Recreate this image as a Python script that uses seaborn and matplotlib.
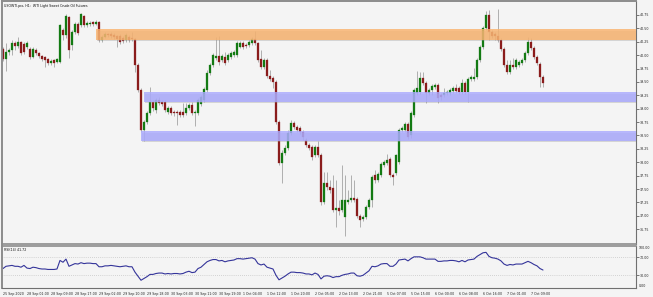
import numpy as np
import pandas as pd
import matplotlib
matplotlib.use("Agg")
import matplotlib.pyplot as plt
import seaborn as sns

# ---------------- data ----------------
title = "USOWTI.pro, H1:  WTI Light Sweet Crude Oil Futures"

opens = [
    40.12, 39.93, 40.06, 40.10, 40.23, 40.17, 40.25, 40.21, 40.15, 40.12,
    39.97, 40.10, 40.04, 39.98, 39.97, 39.93, 39.85, 39.91, 39.87, 39.87,
    40.47, 40.38, 40.71, 40.19, 40.43, 40.58, 40.56, 40.73, 40.56, 40.58,
    40.62, 40.58, 40.62, 40.28, 40.34, 40.40, 40.40, 40.38, 40.36, 40.36,
    40.32, 40.28, 40.34, 40.32, 40.30, 39.82, 39.35, 38.60, 38.75, 38.92,
    39.13, 38.98, 39.16, 39.13, 39.13, 38.94, 39.01, 38.94, 38.94, 38.94,
    38.94, 38.92, 39.01, 39.07, 38.92, 38.92, 39.09, 39.16, 39.35, 39.67,
    39.82, 39.95, 39.98, 39.91, 39.97, 39.91, 39.97, 40.00, 40.00, 40.15,
    40.23, 40.19, 40.19, 40.23, 40.30, 40.23, 39.93, 39.78, 39.91, 39.61,
    39.57, 39.50, 38.75, 37.99, 38.17, 38.27, 38.55, 38.73, 38.66, 38.64,
    38.57, 38.42, 38.32, 38.29, 38.14, 38.29, 38.14, 37.26, 37.61, 37.54,
    37.52, 37.11, 37.15, 37.11, 36.98, 37.26, 37.30, 37.33, 37.32, 37.00,
    36.94, 36.98, 37.17, 37.30, 37.76, 37.67, 37.76, 37.95, 37.99, 38.06,
    37.76, 37.80, 38.01, 38.60, 38.60, 38.71, 38.51, 38.88, 39.29, 39.31,
    39.57, 39.48, 39.29, 39.35, 39.41, 39.44, 39.26, 39.26, 39.29, 39.29,
    39.33, 39.39, 39.39, 39.31, 39.48, 39.31, 39.56, 39.56, 39.59, 39.91,
    40.15, 40.51, 40.75, 40.43, 40.40, 40.36, 40.28, 40.12, 39.82, 39.69,
    39.82, 39.78, 39.82, 39.85, 39.91, 40.04, 40.25, 40.13, 39.97, 39.84,
    39.59,
]
highs = [
    40.15, 40.23, 40.13, 40.28, 40.26, 40.34, 40.26, 40.25, 40.26, 40.15,
    40.15, 40.13, 40.06, 40.00, 39.98, 39.95, 39.93, 39.93, 39.95, 40.58,
    40.51, 40.77, 40.73, 40.47, 40.62, 40.62, 40.79, 40.75, 40.64, 40.64,
    40.64, 40.66, 40.64, 40.38, 40.43, 40.41, 40.43, 40.41, 40.38, 40.40,
    40.36, 40.41, 40.38, 40.43, 40.32, 39.85, 39.39, 38.79, 38.96, 39.41,
    39.16, 39.20, 39.22, 39.16, 39.16, 39.05, 39.05, 38.98, 38.98, 38.98,
    39.11, 39.11, 39.11, 39.13, 38.98, 39.20, 39.26, 39.41, 39.72, 39.85,
    40.04, 40.34, 40.36, 40.02, 40.06, 40.04, 40.08, 40.10, 40.26, 40.26,
    40.26, 40.23, 40.28, 40.34, 40.45, 40.25, 40.10, 39.95, 39.95, 39.72,
    39.61, 39.54, 38.79, 38.23, 38.32, 38.60, 38.79, 38.77, 38.70, 38.68,
    38.60, 38.45, 38.36, 38.32, 38.32, 38.40, 38.17, 37.82, 37.82, 37.67,
    37.76, 37.67, 37.30, 37.95, 37.76, 37.48, 37.76, 37.67, 37.35, 37.04,
    37.02, 37.20, 37.33, 37.76, 37.86, 37.82, 38.01, 38.04, 38.16, 38.10,
    37.80, 38.16, 38.64, 38.68, 38.75, 38.75, 38.96, 39.39, 39.70, 39.69,
    39.69, 39.52, 39.39, 39.46, 39.48, 39.48, 39.29, 39.39, 39.35, 39.39,
    39.42, 39.46, 39.42, 39.56, 39.52, 39.59, 39.63, 39.76, 39.95, 40.19,
    40.54, 40.82, 40.84, 40.47, 40.43, 40.86, 40.32, 40.15, 39.91, 39.91,
    39.95, 39.95, 39.91, 39.95, 40.08, 40.34, 40.32, 40.17, 40.00, 39.87,
    39.63,
]
lows = [
    39.89, 39.70, 40.00, 40.00, 40.10, 40.13, 40.00, 40.02, 40.12, 39.93,
    39.95, 40.00, 39.95, 39.89, 39.78, 39.82, 39.82, 39.78, 39.85, 39.85,
    40.28, 40.32, 39.95, 40.10, 40.40, 40.38, 40.53, 40.53, 40.53, 40.54,
    40.54, 40.56, 40.25, 40.25, 40.32, 40.34, 40.32, 40.30, 40.15, 40.21,
    40.23, 40.25, 40.25, 40.26, 39.69, 39.31, 38.57, 38.40, 38.71, 38.88,
    38.96, 38.92, 39.07, 39.05, 38.94, 38.90, 38.88, 38.86, 38.70, 38.85,
    38.85, 38.88, 38.98, 38.88, 38.68, 38.88, 39.05, 39.13, 39.31, 39.63,
    39.78, 39.91, 39.82, 39.87, 39.82, 39.87, 39.93, 39.97, 39.97, 40.13,
    40.12, 40.13, 40.15, 40.19, 40.19, 39.87, 39.74, 39.74, 39.57, 39.52,
    39.39, 38.71, 37.95, 37.61, 38.14, 38.23, 38.51, 38.62, 38.57, 38.53,
    38.42, 38.29, 38.23, 38.04, 38.10, 38.10, 37.20, 37.22, 37.48, 37.43,
    37.07, 36.79, 37.02, 37.07, 36.62, 37.22, 37.26, 37.26, 36.96, 36.79,
    36.90, 36.94, 37.13, 37.17, 37.61, 37.63, 37.73, 37.91, 37.95, 37.73,
    37.58, 37.76, 37.97, 38.57, 38.57, 38.44, 38.45, 38.85, 39.26, 39.28,
    39.44, 39.11, 39.26, 39.26, 39.37, 39.11, 39.16, 39.22, 39.26, 39.26,
    39.29, 39.29, 39.28, 39.28, 39.28, 39.13, 39.52, 39.52, 39.56, 39.87,
    40.12, 40.47, 40.28, 40.32, 40.28, 40.25, 40.08, 39.78, 39.65, 39.65,
    39.74, 39.74, 39.78, 39.82, 39.87, 40.00, 40.10, 39.93, 39.82, 39.41,
    39.41,
]
closes = [
    39.93, 40.06, 40.10, 40.23, 40.17, 40.25, 40.04, 40.06, 40.23, 39.97,
    40.12, 40.04, 39.98, 39.93, 39.91, 39.85, 39.89, 39.85, 39.93, 40.56,
    40.38, 40.73, 40.10, 40.43, 40.58, 40.41, 40.77, 40.56, 40.60, 40.60,
    40.58, 40.62, 40.28, 40.34, 40.40, 40.38, 40.36, 40.34, 40.30, 40.25,
    40.26, 40.38, 40.28, 40.30, 39.82, 39.35, 38.60, 38.75, 38.92, 39.13,
    39.01, 39.16, 39.11, 39.09, 38.98, 39.01, 38.92, 38.92, 38.92, 38.88,
    38.88, 39.01, 39.07, 38.92, 38.94, 39.16, 39.22, 39.37, 39.67, 39.82,
    40.00, 39.98, 39.87, 39.98, 39.85, 40.00, 40.04, 40.06, 40.23, 40.23,
    40.15, 40.17, 40.25, 40.30, 40.23, 39.91, 39.78, 39.91, 39.61, 39.56,
    39.50, 38.75, 37.99, 38.17, 38.27, 38.55, 38.73, 38.66, 38.60, 38.57,
    38.47, 38.32, 38.27, 38.10, 38.29, 38.14, 37.26, 37.61, 37.54, 37.48,
    37.11, 37.15, 37.09, 37.30, 37.30, 37.30, 37.33, 37.30, 37.00, 36.92,
    36.98, 37.17, 37.30, 37.73, 37.67, 37.78, 37.97, 38.01, 38.04, 37.76,
    37.73, 38.14, 38.60, 38.64, 38.71, 38.47, 38.92, 39.35, 39.39, 39.57,
    39.48, 39.29, 39.35, 39.42, 39.44, 39.20, 39.22, 39.29, 39.31, 39.35,
    39.39, 39.33, 39.31, 39.48, 39.31, 39.56, 39.59, 39.59, 39.91, 40.15,
    40.51, 40.75, 40.43, 40.36, 40.36, 40.28, 40.12, 39.82, 39.69, 39.82,
    39.78, 39.91, 39.87, 39.91, 40.04, 40.25, 40.13, 39.97, 39.85, 39.59,
    39.48,
]
rsi = [
    45, 50, 51, 52, 50, 50, 48, 52, 46, 45,
    48, 47, 45, 44, 44, 43, 43, 43, 44, 63,
    59, 66, 50, 53, 56, 55, 58, 56, 57, 57,
    56, 56, 49, 49, 51, 51, 52, 51, 50, 49,
    50, 51, 49, 49, 37, 28, 19, 23, 27, 32,
    32, 34, 35, 35, 33, 34, 33, 34, 34, 33,
    34, 37, 39, 36, 37, 45, 48, 54, 60, 63,
    65, 65, 62, 63, 60, 62, 63, 64, 67, 67,
    66, 67, 68, 69, 66, 56, 53, 55, 48, 46,
    44, 30, 20, 24, 28, 33, 37, 37, 36, 36,
    35, 33, 33, 31, 35, 32, 22, 28, 29, 28,
    25, 27, 27, 30, 32, 33, 35, 35, 29, 28,
    30, 35, 40, 50, 49, 51, 55, 56, 56, 50,
    50, 55, 64, 65, 66, 62, 67, 71, 71, 71,
    69, 66, 66, 66, 66, 61, 61, 62, 62, 63,
    63, 62, 60, 63, 60, 64, 65, 66, 72, 76,
    80, 81, 72, 69, 68, 66, 62, 55, 52, 54,
    53, 55, 55, 55, 58, 61, 58, 54, 51, 45,
    41.72,
]
rsi_label = "RSI(14) 41.72"

# supply / demand zones: (first bar, low price, high price, colour)
zone_start = [31, 47, 46]
zone_low = [40.29, 39.13, 38.40]
zone_high = [40.48, 39.31, 38.58]
zone_color = ["#fab36e", "#aaaaff", "#aaaaff"]

price_ticks = [36.75, 37.00, 37.25, 37.50, 37.75, 38.00, 38.25, 38.50,
               38.75, 39.00, 39.25, 39.50, 39.75, 40.00, 40.25, 40.50, 40.75]
rsi_ticks = [70, 30]
rsi_edge_labels = ["100.00", "0.00"]

time_labels = ["25 Sep 2020", "28 Sep 01:00", "28 Sep 09:00", "28 Sep 17:00",
               "29 Sep 02:00", "29 Sep 10:00", "29 Sep 18:00", "30 Sep 03:00",
               "30 Sep 11:00", "30 Sep 19:00", "1 Oct 04:00", "1 Oct 12:00",
               "1 Oct 20:00", "2 Oct 05:00", "2 Oct 13:00", "2 Oct 21:00",
               "5 Oct 07:00", "5 Oct 15:00", "6 Oct 00:00", "6 Oct 08:00",
               "6 Oct 16:00", "7 Oct 01:00", "7 Oct 09:00"]
label_every = 8

# ---------------- figure ----------------
sns.set_style("white")
plt.rcParams["font.family"] = ["DejaVu Sans"]

W, H = 653, 297
BG = "#f4f4f4"
FS = 2.35
fig = plt.figure(figsize=(W / 100, H / 100), dpi=100, facecolor=BG)

df = pd.DataFrame({"bar": np.arange(len(closes)), "open": opens, "high": highs,
                   "low": lows, "close": closes, "rsi": rsi})
df["up"] = df["close"] >= df["open"]

XMIN, XMAX = -0.33, 211.0

ax = fig.add_axes([2 / W, 1 - 244 / H, 634 / W, 243 / H])
ax.set_facecolor(BG)
ax.set_xlim(XMIN, XMAX)
ax.set_ylim(36.475, 41.01)

# wicks
ax.vlines(df["bar"], df["low"], df["high"], color="#9c9c9c", lw=0.55, zorder=1)
# bodies
body_lo = np.minimum(df["open"], df["close"])
body_h = np.maximum(np.abs(df["close"] - df["open"]), 0.012)
cols = np.where(df["up"], "#137a13", "#8a1c1c")
ax.bar(df["bar"], body_h, bottom=body_lo, width=0.62, color=cols,
       edgecolor=cols, linewidth=0.2, zorder=2)

# zones (with a faint shadow)
for s, lo, hi, c in zip(zone_start, zone_low, zone_high, zone_color):
    ax.fill_between([s + 0.35, XMAX], lo - 0.03, hi - 0.03, color="#9a9a9a",
                    alpha=0.35, lw=0, zorder=3)
    ax.fill_between([s, XMAX], lo, hi, color=c, alpha=0.82, lw=0, zorder=4)

ax.yaxis.tick_right()
ax.set_yticks(price_ticks)
ax.set_yticklabels([f"{t:.2f}" for t in price_ticks])
ax.tick_params(axis="y", which="both", length=2, width=0.5, pad=1,
               labelsize=FS, colors="#444444", labelcolor="#222222")
ax.set_xticks([])
for side in ["left", "top"]:
    ax.spines[side].set_color("#8c8c8c")
    ax.spines[side].set_linewidth(1.4)
ax.spines["right"].set_color("#707070")
ax.spines["right"].set_linewidth(0.8)
ax.spines["bottom"].set_color("#8c8c8c")
ax.spines["bottom"].set_linewidth(1.2)

fig.text(4 / W, 1 - 5.5 / H, title, fontsize=FS, color="#111111",
         va="center", ha="left")

# ---------------- RSI panel ----------------
ax2 = fig.add_axes([2 / W, 1 - 288 / H, 634 / W, 42.5 / H])
ax2.set_facecolor(BG)
sns.lineplot(data=df, x="bar", y="rsi", ax=ax2, color="#34349a", linewidth=0.8)
ax2.set_xlim(XMIN, XMAX)
ax2.set_ylim(1.8, 96.2)
for lvl in rsi_ticks:
    ax2.axhline(lvl, color="#b4b4b4", lw=0.5, ls=(0, (1, 2)), zorder=0)
ax2.yaxis.tick_right()
ax2.set_yticks(rsi_ticks)
ax2.set_yticklabels([f"{t:.2f}" for t in rsi_ticks])
ax2.tick_params(axis="y", length=2, width=0.5, pad=1, labelsize=FS,
                colors="#444444", labelcolor="#222222")
ax2.text(1.005, 0.99, rsi_edge_labels[0], transform=ax2.transAxes,
         fontsize=FS, va="top", ha="left", color="#222222")
ax2.text(1.005, 0.05, rsi_edge_labels[1], transform=ax2.transAxes,
         fontsize=FS, va="center", ha="left", color="#222222")
ax2.set_xlabel("")
ax2.set_ylabel("")
ax2.text(0.003, 0.94, rsi_label, transform=ax2.transAxes, fontsize=FS,
         va="top", ha="left", color="#111111")

tick_pos = list(range(0, label_every * len(time_labels), label_every))
ax2.set_xticks(tick_pos)
ax2.set_xticklabels(time_labels, ha="left")
ax2.tick_params(axis="x", length=1.5, width=0.5, pad=1.5, labelsize=FS,
                colors="#444444", labelcolor="#222222")
ax2.spines["left"].set_color("#8c8c8c")
ax2.spines["left"].set_linewidth(1.4)
ax2.spines["top"].set_color("#8c8c8c")
ax2.spines["top"].set_linewidth(1.2)
ax2.spines["right"].set_color("#707070")
ax2.spines["right"].set_linewidth(0.8)
ax2.spines["bottom"].set_color("#707070")
ax2.spines["bottom"].set_linewidth(0.8)

fig.savefig("out.png", dpi=100, facecolor=BG)
